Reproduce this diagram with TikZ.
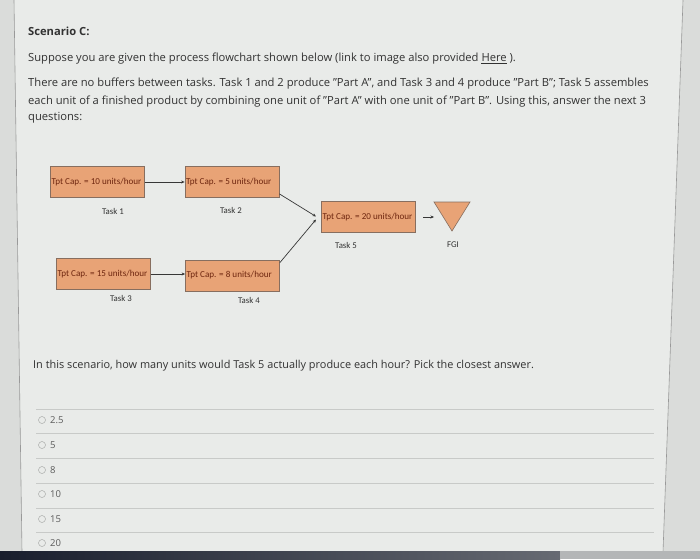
\documentclass[tikz,border=0pt]{standalone}
\usepackage{fontspec}
\setmainfont{Open Sans}
\newfontfamily\diagfont{Carlito}
\usetikzlibrary{arrows.meta}
\definecolor{bgc}{RGB}{218,220,218}
\definecolor{panelc}{RGB}{233,235,233}
\definecolor{txtc}{RGB}{50,50,50}
\definecolor{boxfill}{RGB}{232,163,118}
\definecolor{boxline}{RGB}{135,110,95}
\definecolor{boxtxt}{RGB}{110,38,15}
\definecolor{arrc}{RGB}{55,55,55}
\definecolor{rulec}{RGB}{200,202,200}
\definecolor{barc}{RGB}{25,30,45}
\newcommand{\boxtext}[1]{\makebox[92pt][l]{#1}}
\begin{document}
\begin{tikzpicture}[x=1pt,y=-1pt,
  body/.style={anchor=base west,inner sep=0,text=txtc,font=\fontsize{11.2}{13}\selectfont},
  taskbox/.style={draw=boxline,fill=boxfill,line width=0.8pt,minimum width=94pt,minimum height=31pt,
     inner sep=1pt,text=boxtxt,font=\diagfont\fontsize{9.1}{10}\selectfont},
  tasklabel/.style={inner sep=0,text=txtc,font=\diagfont\fontsize{8.8}{10}\selectfont},
  flow/.style={draw=arrc,line width=0.7pt,-{Stealth[length=3.5pt,width=3pt]}},
  optrule/.style={draw=rulec,line width=0.9pt},
  radio/.style={draw=rulec!85!black,fill=panelc,line width=0.5pt,circle,minimum size=7pt,inner sep=0},
  opttext/.style={anchor=base west,inner sep=0,text=txtc!80,font=\fontsize{9.5}{11}\selectfont}]
\useasboundingbox (0,0) rectangle (700,559);
\fill[bgc] (0,0) rectangle (700,559);
\fill[panelc] (14,0) -- (683,0) -- (663,552) -- (22,552) -- cycle;
\draw[gray!80,line width=0.6pt] (14,0) -- (22,552);
\draw[gray!80,line width=0.6pt] (683,0) -- (663,552);
\shade[left color=barc,right color=barc!60!bgc] (0,551) rectangle (560,559);
\fill[bgc!80!barc] (560,551) rectangle (700,559);

% text
\node[body,font=\bfseries\fontsize{11.2}{13}\selectfont] (title) at (28,36) {Scenario C:};
\node[body] (l1) at (28,62) {Suppose you are given the process flowchart shown below (link to image also provided \underline{Here} ).};
\node[body] (l2) at (28,87) {There are no buffers between tasks. Task 1 and 2 produce "Part A", and Task 3 and 4 produce "Part B"; Task 5 assembles};
\node[body] (l3) at (28,104) {each unit of a finished product by combining one unit of "Part A" with one unit of "Part B". Using this, answer the next 3};
\node[body] (l4) at (28,121) {questions:};

% diagram
\node[taskbox] (t1) at (97.5,182) {\boxtext{Tpt Cap. = 10 units/hour}};
\node[taskbox] (t2) at (232,182) {\boxtext{Tpt Cap. = 5 units/hour}};
\node[taskbox] (t3) at (103.5,274) {\boxtext{Tpt Cap. = 15 units/hour}};
\node[taskbox] (t4) at (232.5,275.5) {\boxtext{Tpt Cap. = 8 units/hour}};
\node[taskbox] (t5) at (368.5,217) {\boxtext{Tpt Cap. = 20 units/hour}};
\node[tasklabel] (lt1) at (113,211) {Task 1};
\node[tasklabel] (lt2) at (231,210) {Task 2};
\node[tasklabel] (lt3) at (121,298) {Task 3};
\node[tasklabel] (lt4) at (249,300) {Task 4};
\node[tasklabel] (lt5) at (346,245) {Task 5};
\node[tasklabel] (lfgi) at (453,245) {FGI};

\coordinate (fgiA) at (434,202);
\coordinate (fgiB) at (470,202);
\coordinate (fgiC) at (452,231);
\fill[boxfill,draw=boxline,line width=0.6pt] (fgiA) -- (fgiB) -- (fgiC) -- cycle;
\coordinate (a5s) at (423,217);
\coordinate (a5e) at (434,217);

\draw[flow] (t1.east) -- (t2.west);
\draw[flow] (t3.east) -- (t4.west |- t3.east);
\draw[flow] (t2.south east) ++(0,-4) coordinate (t2o) -- (316,216.5) coordinate (m1);
\draw[flow] (t4.north east) ++(0,3) coordinate (t4o) -- (316,219.5) coordinate (m2);
\draw[flow] (a5s) -- (a5e);

% question
\node[body,font=\fontsize{10.9}{13}\selectfont] (q) at (33,368) {In this scenario, how many units would Task 5 actually produce each hour? Pick the closest answer.};

\foreach \y in {409,433,458,483,508,532} \draw[optrule] (36,\y) -- (654,\y);
\foreach \y/\t/\n in {420/2.5/a,445/5/b,470/8/c,494/10/d,519/15/e,543/20/f}{
  \node[radio] (r\n) at (42,\y) {};
  \node[opttext] (o\n) at (50,\y+3.5) {\t};
}
\end{tikzpicture}
\end{document}
